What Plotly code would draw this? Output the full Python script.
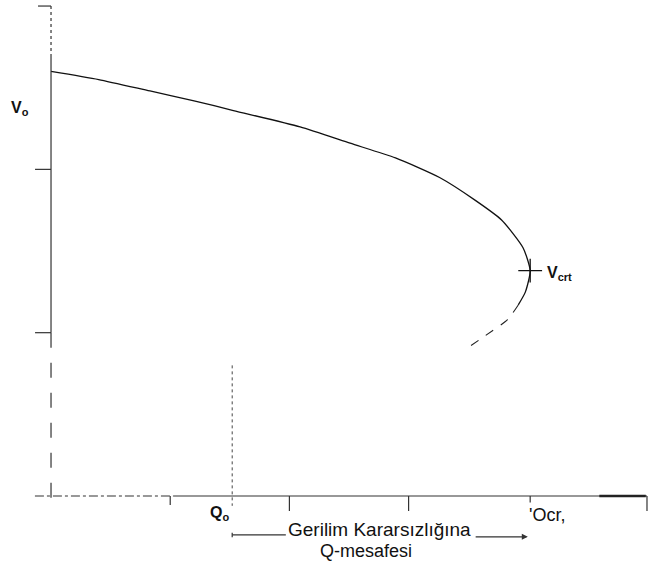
import plotly.graph_objects as go

# ---- data ----
q_curve = [0.00, 0.40, 0.83, 1.20, 1.53, 2.09, 2.51, 2.89, 3.26, 3.56, 3.78, 3.96, 4.02, 3.98, 3.92]
v_curve = [2.60, 2.55, 2.48, 2.42, 2.36, 2.26, 2.16, 2.07, 1.95, 1.81, 1.69, 1.52, 1.38, 1.25, 1.17]
q_tail = [3.92, 3.83, 3.62, 3.52]
v_tail = [1.17, 1.08, 0.97, 0.92]
q_nose = [4.02]
v_nose = [1.38]
q0 = 1.52
x_ticks = [1, 2, 3, 5]
y_ticks = [1, 2, 3]
SUB = "<sub><span style='font-size:11px'>%s</span></sub>"
label_v0 = "V" + SUB % "o"
label_vcrt = "V" + SUB % "crt"
label_q0 = "Q" + SUB % "o"
label_qcr = "'Ocr,"
label_dist1 = "Gerilim Kararsızlığına"
label_dist2 = "Q-mesafesi"

AX = "#333"
fig = go.Figure()
fig.add_trace(go.Scatter(x=q_curve, y=v_curve, mode="lines",
                         line=dict(color="#111", width=1.3, shape="spline", smoothing=0.6),
                         showlegend=False, hoverinfo="skip"))
fig.add_trace(go.Scatter(x=q_tail, y=v_tail, mode="lines",
                         line=dict(color="#222", width=1.1, shape="spline", smoothing=0.6, dash="dash"),
                         showlegend=False, hoverinfo="skip"))
fig.add_trace(go.Scatter(x=q_nose, y=v_nose, mode="markers",
                         marker=dict(symbol="cross-thin", size=17, line=dict(color="#111", width=1.3)),
                         showlegend=False, hoverinfo="skip"))

def seg(x0, x1, y0, y1, width=1.2, dash="solid", color=AX):
    fig.add_shape(type="line", x0=x0, x1=x1, y0=y0, y1=y1, xref="x", yref="y",
                  line=dict(color=color, width=width, dash=dash))

# dotted vertical at Q0
seg(q0, q0, 0.80, -0.06, width=1, dash="dot", color="#444")
# x axis
seg(-0.135, 1.03, 0, 0, dash="dashdot")
seg(1.03, 5.0, 0, 0)
seg(4.6, 4.99, 0, 0, width=2.5, color="#222")
# y axis (broken look)
seg(0, 0, 3.0, 2.7, dash="dot")
seg(0, 0, 2.7, 1.0)
seg(0, 0, 1.0, -0.03, dash="longdash")
# ticks
for t in x_ticks:
    seg(t, t, 0, -0.092, dash="dash" if t == 1 else "solid")
seg(q_nose[0], q_nose[0], 0, -0.04)
for t in y_ticks:
    seg(-0.134 if t < 3 else -0.109, 0, t, t)

# distance indicator
seg(q0, 1.97, -0.238, -0.238)
seg(q0, q0, -0.225, -0.252)
fig.add_annotation(x=q_nose[0] - 0.02, y=-0.25, ax=3.55, ay=-0.25, xref="x", yref="y",
                   axref="x", ayref="y", text="", showarrow=True, arrowhead=2,
                   arrowsize=1, arrowwidth=1.2, arrowcolor=AX)

font_t = dict(family="Liberation Sans, Arial, sans-serif", size=19, color="#111")
fig.add_annotation(x=2.76, y=-0.208, xref="x", yref="y", text=label_dist1, showarrow=False, font=font_t)
fig.add_annotation(x=2.64, y=-0.337, xref="x", yref="y", text=label_dist2, showarrow=False,
                   font=dict(font_t, size=18))
fig.add_annotation(x=4.16, y=-0.116, xref="x", yref="y", text=label_qcr, showarrow=False,
                   font=dict(font_t, size=18))

font_b = dict(family="Liberation Sans, Arial, sans-serif", size=16, color="#111")
fig.add_annotation(x=1.41, y=-0.11, xref="x", yref="y", text="<b>" + label_q0 + "</b>",
                   showarrow=False, font=font_b)
fig.add_annotation(x=-0.26, y=2.37, xref="x", yref="y", text="<b>" + label_v0 + "</b>",
                   showarrow=False, font=font_b)
fig.add_annotation(x=4.27, y=1.36, xref="x", yref="y", text="<b>" + label_vcrt + "</b>",
                   showarrow=False, font=font_b)

fig.update_layout(
    width=657, height=562,
    margin=dict(l=0, r=0, t=0, b=0),
    paper_bgcolor="white", plot_bgcolor="white",
    xaxis=dict(range=[-0.428, 5.084], visible=False, fixedrange=True),
    yaxis=dict(range=[-0.404, 3.037], visible=False, fixedrange=True),
)

fig.write_html("out.html")
